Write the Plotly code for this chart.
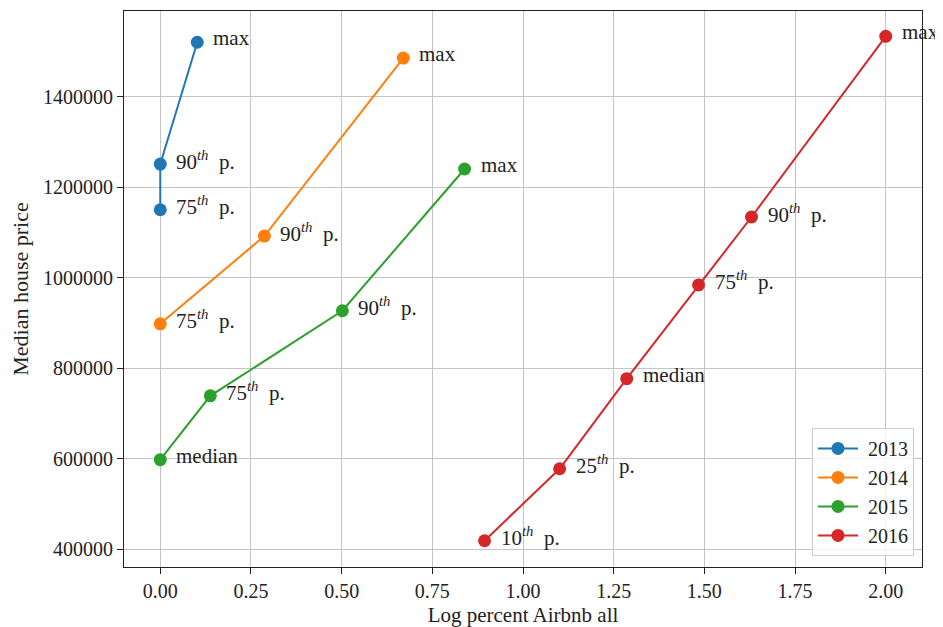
import plotly.graph_objects as go

years = ["2013", "2014", "2015", "2016"]
colors = ["#1f77b4", "#ff7f0e", "#2ca02c", "#d62728"]

x_2013 = [0.0, 0.0, 0.102]
y_2013 = [1150000, 1251000, 1520000]
lab_2013 = ["75<sup><i>th</i></sup>&nbsp; p.", "90<sup><i>th</i></sup>&nbsp; p.", "max"]

x_2014 = [0.0, 0.287, 0.670]
y_2014 = [898000, 1092000, 1485000]
lab_2014 = ["75<sup><i>th</i></sup>&nbsp; p.", "90<sup><i>th</i></sup>&nbsp; p.", "max"]

x_2015 = [0.0, 0.138, 0.502, 0.839]
y_2015 = [598000, 739000, 927000, 1240000]
lab_2015 = ["median", "75<sup><i>th</i></sup>&nbsp; p.", "90<sup><i>th</i></sup>&nbsp; p.", "max"]

x_2016 = [0.894, 1.101, 1.286, 1.484, 1.630, 2.0]
y_2016 = [419000, 578000, 777000, 984000, 1134000, 1533000]
lab_2016 = ["10<sup><i>th</i></sup>&nbsp; p.", "25<sup><i>th</i></sup>&nbsp; p.", "median",
            "75<sup><i>th</i></sup>&nbsp; p.", "90<sup><i>th</i></sup>&nbsp; p.", "max"]

x_ticks = [0.0, 0.25, 0.5, 0.75, 1.0, 1.25, 1.5, 1.75, 2.0]
y_ticks = [400000, 600000, 800000, 1000000, 1200000, 1400000]

series = [(x_2013, y_2013, lab_2013), (x_2014, y_2014, lab_2014),
          (x_2015, y_2015, lab_2015), (x_2016, y_2016, lab_2016)]

FONT = "Liberation Serif"
TXT = "#222222"
fig = go.Figure()
annotations = []
for (xs, ys, labs), yr, c in zip(series, years, colors):
    fig.add_trace(go.Scatter(x=xs, y=ys, mode="lines+markers", name="&nbsp;" + yr,
                             line=dict(color=c, width=2),
                             marker=dict(color=c, size=13)))
    for xv, yv, lb in zip(xs, ys, labs):
        annotations.append(dict(x=xv, y=yv, text=lb, showarrow=False,
                                xanchor="left", yanchor="middle",
                                xshift=14, yshift=4,
                                font=dict(family=FONT, size=21, color=TXT)))

axis_common = dict(showline=True, linecolor="#222", linewidth=1.2, mirror=True,
                   ticks="outside", ticklen=6, tickcolor="#222",
                   showgrid=True, gridcolor="#c4c4c4", gridwidth=1,
                   zeroline=False, automargin=False,
                   tickfont=dict(family=FONT, size=20, color=TXT))

# the page body adds an 8px offset, so the figure is sized to fit inside it
fig.update_layout(
    width=935, height=619,
    margin=dict(l=116, r=21, t=3, b=60),
    paper_bgcolor="white", plot_bgcolor="white",
    annotations=annotations,
    xaxis=dict(range=[-0.1, 2.1], tickvals=x_ticks, tickformat=".2f",
               title=dict(text="Log percent Airbnb all", standoff=6,
                          font=dict(family=FONT, size=21, color=TXT)),
               **axis_common),
    yaxis=dict(range=[361000, 1589000], tickvals=y_ticks, tickformat="d",
               title=dict(text="Median house price", standoff=10,
                          font=dict(family=FONT, size=22, color=TXT)),
               **axis_common),
    legend=dict(x=0.99, y=0.02, xanchor="right", yanchor="bottom",
                bgcolor="rgba(255,255,255,0.8)", bordercolor="#cccccc", borderwidth=1,
                font=dict(family=FONT, size=20, color=TXT),
                itemwidth=40, tracegroupgap=0),
    showlegend=True,
)

fig.write_html("out.html")
